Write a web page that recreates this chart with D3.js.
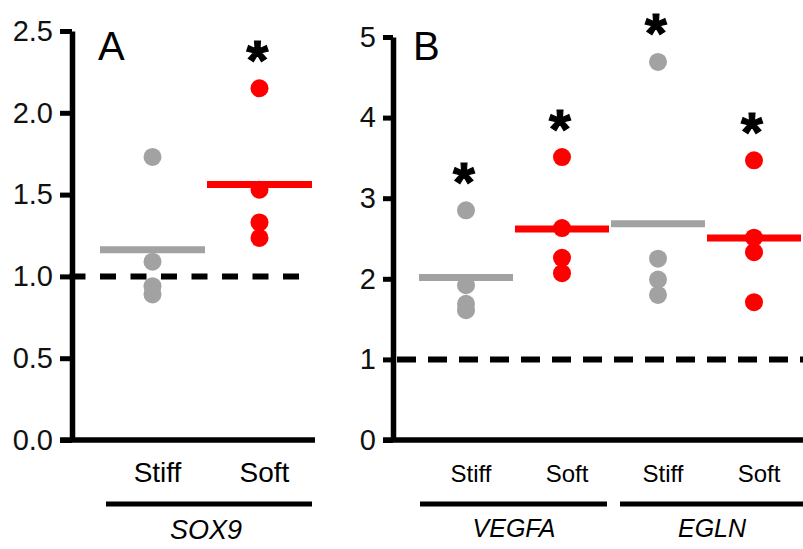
<!DOCTYPE html>
<html>
<head>
<meta charset="utf-8">
<script src="https://cdn.jsdelivr.net/npm/d3@7"></script>
<style>
  body { margin: 0; background: #fff; }
  text { font-family: "Liberation Sans", Arial, sans-serif; }
</style>
</head>
<body>
<div id="chart"></div>
<script>
// values (fold change)
var conditions = ["Stiff", "Soft"];

// panel A: SOX9
var sox9Stiff = [1.73, 1.09, 0.94, 0.89];
var sox9Soft = [2.15, 1.53, 1.33, 1.235];
var sigA = [false, true];
var ticksA = [0, 0.5, 1.0, 1.5, 2.0, 2.5];

// panel B: VEGFA and EGLN
var genesB = ["VEGFA", "EGLN"];
var vegfaStiff = [2.85, 1.92, 1.69, 1.61];
var vegfaSoft = [3.51, 2.63, 2.26, 2.07];
var eglnStiff = [4.69, 2.25, 1.99, 1.80];
var eglnSoft = [3.47, 2.51, 2.33, 1.71];
var sigB = [true, true, true, true];
var ticksB = [0, 1, 2, 3, 4, 5];

let width = 803;
let height = 549;

const grey = "#a2a2a2";
const red = "#ff0000";
const colorOf = c => c == "Stiff" ? grey : red;

let svg = d3.select("#chart")
  .append("svg")
  .attr("width", width)
  .attr("height", height);

/** panel A */
let yA = d3.scaleLinear().domain([0, 2.5]).range([440, 31]);
let xA = d3.scaleBand().domain(conditions).range([99, 313]);

const groupsA = conditions.map((c, i) => ({ key: c, cond: c, values: [sox9Stiff, sox9Soft][i], sig: sigA[i] }));

drawAxis(72, yA, ticksA, d3.format(".1f"), 60, 315);
drawDashed(yA(1), 69.5, 299, "16,14.5");
drawGroups(groupsA, xA, yA);
drawLabels(groupsA, xA, 28);

svg.append("line")
  .attr("x1", 106).attr("x2", 312)
  .attr("y1", 504).attr("y2", 504)
  .attr("stroke", "#000").attr("stroke-width", 5);

svg.append("text")
  .attr("x", (xA.range()[0] + xA.range()[1]) / 2)
  .attr("y", 539)
  .attr("text-anchor", "middle")
  .attr("font-size", 27)
  .attr("font-style", "italic")
  .text("SOX9");

svg.append("text")
  .attr("x", 98).attr("y", 60)
  .attr("font-size", 40)
  .text("A");

/** panel B */
let yB = d3.scaleLinear().domain([0, 5]).range([440, 37]);
const keysB = ["VEGFA-Stiff", "VEGFA-Soft", "EGLN-Stiff", "EGLN-Soft"];
let xB = d3.scaleBand().domain(keysB).range([418, 802]);

const seriesB = [vegfaStiff, vegfaSoft, eglnStiff, eglnSoft];
const groupsB = keysB.map((k, i) => ({ key: k, cond: k.split("-")[1], values: seriesB[i], sig: sigB[i] }));

drawAxis(393, yB, ticksB, d3.format("d"), 383, width);
drawDashed(yB(1), 397, width, "19,12");
drawGroups(groupsB, xB, yB);
drawLabels(groupsB, xB, 24);

genesB.forEach((g, i) => {
  const first = xB(g + "-Stiff");
  const last = xB(g + "-Soft") + xB.bandwidth();
  svg.append("line")
    .attr("x1", first + (i == 0 ? 2 : 10))
    .attr("x2", i == genesB.length - 1 ? width : last - 3)
    .attr("y1", 504).attr("y2", 504)
    .attr("stroke", "#000").attr("stroke-width", 5);
  svg.append("text")
    .attr("x", (first + last) / 2 + (i == 0 ? 0 : 6))
    .attr("y", 537)
    .attr("text-anchor", "middle")
    .attr("font-size", 25)
    .attr("font-style", "italic")
    .text(g);
});

svg.append("text")
  .attr("x", 413).attr("y", 60)
  .attr("font-size", 40)
  .text("B");

function drawAxis(x0, y, ticks, fmt, xStart, xEnd) {
  const g = svg.append("g")
    .attr("transform", `translate(${x0},0)`)
    .call(d3.axisLeft(y).tickValues(ticks).tickFormat(fmt)
      .tickSize(x0 - xStart).tickSizeOuter(0).tickPadding(7));
  g.select(".domain").attr("stroke-width", 5.5);
  g.selectAll(".tick line").attr("stroke-width", 5);
  g.selectAll(".tick text")
    .attr("font-size", 29)
    .attr("font-family", "'Liberation Sans', Arial, sans-serif")
    .attr("fill", "#111");
  // x axis baseline
  svg.append("line")
    .attr("x1", xStart).attr("x2", xEnd)
    .attr("y1", y(0)).attr("y2", y(0))
    .attr("stroke", "#000").attr("stroke-width", 5.5);
}

function drawDashed(yv, x1, x2, dash) {
  svg.append("line")
    .attr("x1", x1).attr("x2", x2)
    .attr("y1", yv).attr("y2", yv)
    .attr("stroke", "#000")
    .attr("stroke-width", 6)
    .attr("stroke-dasharray", dash);
}

function drawGroups(groups, x, y) {
  const bw = x.bandwidth();
  const g = svg.append("g").selectAll("g")
    .data(groups)
    .enter()
    .append("g");

  g.selectAll("circle")
    .data(d => d.values.map(v => ({ v: v, d: d })))
    .enter()
    .append("circle")
    .attr("cx", p => x(p.d.key) + bw / 2)
    .attr("cy", p => y(p.v))
    .attr("r", 9)
    .attr("fill", p => colorOf(p.d.cond));

  // mean bar
  g.append("line")
    .attr("x1", d => x(d.key) + 1)
    .attr("x2", d => x(d.key) + bw - 1)
    .attr("y1", d => y(d3.mean(d.values)))
    .attr("y2", d => y(d3.mean(d.values)))
    .attr("stroke", d => colorOf(d.cond))
    .attr("stroke-width", 7);

  // significance star above the top point
  g.filter(d => d.sig)
    .append("text")
    .attr("x", d => x(d.key) + bw / 2 - 2)
    .attr("y", d => y(d3.max(d.values)) - 42 + 0.58 * 56)
    .attr("text-anchor", "middle")
    .attr("font-size", 56)
    .attr("font-weight", "bold")
    .attr("stroke", "#000")
    .attr("stroke-width", 1.2)
    .text("*");
}

function drawLabels(groups, x, size) {
  svg.append("g").selectAll("text")
    .data(groups)
    .enter()
    .append("text")
    .attr("x", d => x(d.key) + x.bandwidth() / 2 + 5)
    .attr("y", 482)
    .attr("text-anchor", "middle")
    .attr("font-size", size)
    .text(d => d.cond);
}
</script>
</body>
</html>
